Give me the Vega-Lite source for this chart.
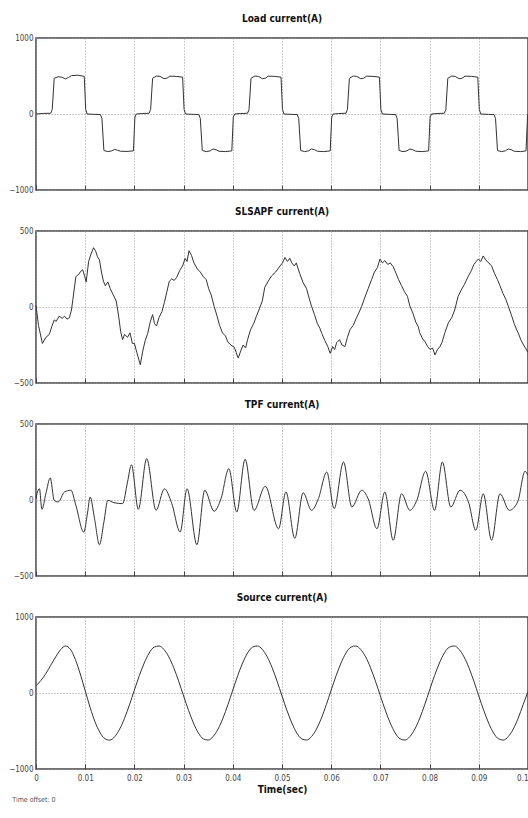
{
  "$schema": "https://vega.github.io/schema/vega-lite/v6.json",
  "padding": {"left": 5, "top": 13, "right": 0, "bottom": 0},
  "background": "white",
  "spacing": 11,
  "title": {"text": "Time offset: 0", "orient": "bottom", "anchor": "start", "fontSize": 7, "font": "DejaVu Sans Condensed", "fontWeight": "normal", "color": "#555555", "offset": 1, "dx": 7},
  "config": {
    "font": "DejaVu Sans Condensed",
    "view": {"stroke": "#444", "strokeWidth": 1.5},
    "title": {"fontSize": 10, "fontWeight": "bold", "offset": 10, "color": "#111"},
    "axis": {"grid": true, "gridColor": "#999", "gridDash": [1, 2], "gridWidth": 1, "domain": false, "labelColor": "#444", "labelFontSize": 8, "labelFlush": false}
  },
  "datasets": {
    "load": [
      {"t": 0, "i": 0}, {"t": 0.0015, "i": 8}, {"t": 0.003, "i": 10}, {"t": 0.0033, "i": 60}, {"t": 0.0037, "i": 470}, {"t": 0.0045, "i": 490}, {"t": 0.0052, "i": 485}, {"t": 0.006, "i": 462}, {"t": 0.0066, "i": 480}, {"t": 0.0072, "i": 505}, {"t": 0.0085, "i": 510}, {"t": 0.0098, "i": 495}, {"t": 0.0101, "i": 60}, {"t": 0.0104, "i": 0}, {"t": 0.012, "i": -5}, {"t": 0.0131, "i": -8}, {"t": 0.0134, "i": -60}, {"t": 0.0138, "i": -480}, {"t": 0.0146, "i": -495}, {"t": 0.0154, "i": -485}, {"t": 0.016, "i": -465}, {"t": 0.0166, "i": -478}, {"t": 0.0172, "i": -490}, {"t": 0.0185, "i": -492}, {"t": 0.0198, "i": -485}, {"t": 0.0201, "i": -40},
      {"t": 0.0204, "i": 0}, {"t": 0.0215, "i": 6}, {"t": 0.023, "i": 10}, {"t": 0.0233, "i": 60}, {"t": 0.0237, "i": 470}, {"t": 0.0245, "i": 500}, {"t": 0.0252, "i": 495}, {"t": 0.026, "i": 465}, {"t": 0.0266, "i": 470}, {"t": 0.0272, "i": 498}, {"t": 0.0285, "i": 495}, {"t": 0.0298, "i": 485}, {"t": 0.0301, "i": 60}, {"t": 0.0304, "i": 0}, {"t": 0.032, "i": -5}, {"t": 0.0331, "i": -8}, {"t": 0.0334, "i": -60}, {"t": 0.0338, "i": -480}, {"t": 0.0346, "i": -495}, {"t": 0.0354, "i": -485}, {"t": 0.036, "i": -460}, {"t": 0.0366, "i": -470}, {"t": 0.0372, "i": -490}, {"t": 0.0385, "i": -495}, {"t": 0.0398, "i": -485}, {"t": 0.0401, "i": -40},
      {"t": 0.0404, "i": 0}, {"t": 0.0415, "i": 6}, {"t": 0.043, "i": 10}, {"t": 0.0433, "i": 60}, {"t": 0.0437, "i": 470}, {"t": 0.0445, "i": 500}, {"t": 0.0452, "i": 495}, {"t": 0.046, "i": 465}, {"t": 0.0466, "i": 470}, {"t": 0.0472, "i": 498}, {"t": 0.0485, "i": 495}, {"t": 0.0498, "i": 485}, {"t": 0.0501, "i": 60}, {"t": 0.0504, "i": 0}, {"t": 0.052, "i": -5}, {"t": 0.0531, "i": -8}, {"t": 0.0534, "i": -60}, {"t": 0.0538, "i": -480}, {"t": 0.0546, "i": -495}, {"t": 0.0554, "i": -485}, {"t": 0.056, "i": -460}, {"t": 0.0566, "i": -470}, {"t": 0.0572, "i": -490}, {"t": 0.0585, "i": -495}, {"t": 0.0598, "i": -485}, {"t": 0.0601, "i": -40},
      {"t": 0.0604, "i": 0}, {"t": 0.0615, "i": 6}, {"t": 0.063, "i": 10}, {"t": 0.0633, "i": 60}, {"t": 0.0637, "i": 470}, {"t": 0.0645, "i": 500}, {"t": 0.0652, "i": 495}, {"t": 0.066, "i": 465}, {"t": 0.0666, "i": 470}, {"t": 0.0672, "i": 498}, {"t": 0.0685, "i": 495}, {"t": 0.0698, "i": 485}, {"t": 0.0701, "i": 60}, {"t": 0.0704, "i": 0}, {"t": 0.072, "i": -5}, {"t": 0.0731, "i": -8}, {"t": 0.0734, "i": -60}, {"t": 0.0738, "i": -480}, {"t": 0.0746, "i": -495}, {"t": 0.0754, "i": -485}, {"t": 0.076, "i": -460}, {"t": 0.0766, "i": -470}, {"t": 0.0772, "i": -490}, {"t": 0.0785, "i": -495}, {"t": 0.0798, "i": -485}, {"t": 0.0801, "i": -40},
      {"t": 0.0804, "i": 0}, {"t": 0.0815, "i": 6}, {"t": 0.083, "i": 10}, {"t": 0.0833, "i": 60}, {"t": 0.0837, "i": 470}, {"t": 0.0845, "i": 500}, {"t": 0.0852, "i": 495}, {"t": 0.086, "i": 465}, {"t": 0.0866, "i": 470}, {"t": 0.0872, "i": 498}, {"t": 0.0885, "i": 495}, {"t": 0.0898, "i": 485}, {"t": 0.0901, "i": 60}, {"t": 0.0904, "i": 0}, {"t": 0.092, "i": -5}, {"t": 0.0931, "i": -8}, {"t": 0.0934, "i": -60}, {"t": 0.0938, "i": -480}, {"t": 0.0946, "i": -495}, {"t": 0.0954, "i": -485}, {"t": 0.096, "i": -460}, {"t": 0.0966, "i": -470}, {"t": 0.0972, "i": -490}, {"t": 0.0985, "i": -495}, {"t": 0.0996, "i": -485}, {"t": 0.0999, "i": -40}, {"t": 0.1, "i": 0}
    ],
    "slsapf": [
      {"t": 0, "i": 10}, {"t": 0.0005, "i": -120}, {"t": 0.0013, "i": -240}, {"t": 0.002, "i": -200}, {"t": 0.0027, "i": -180}, {"t": 0.0032, "i": -130}, {"t": 0.0037, "i": -85}, {"t": 0.0041, "i": -95}, {"t": 0.0047, "i": -60}, {"t": 0.0053, "i": -75}, {"t": 0.0058, "i": -60}, {"t": 0.0063, "i": -80}, {"t": 0.0068, "i": -70}, {"t": 0.0072, "i": -20}, {"t": 0.0075, "i": 50}, {"t": 0.0081, "i": 200}, {"t": 0.0087, "i": 215}, {"t": 0.0091, "i": 235}, {"t": 0.0095, "i": 245}, {"t": 0.0099, "i": 200}, {"t": 0.0102, "i": 165}, {"t": 0.0107, "i": 300}, {"t": 0.0112, "i": 350}, {"t": 0.0117, "i": 390}, {"t": 0.0121, "i": 370}, {"t": 0.0125, "i": 330}, {"t": 0.0129, "i": 310}, {"t": 0.0133, "i": 230}, {"t": 0.0137, "i": 170}, {"t": 0.0141, "i": 140}, {"t": 0.0146, "i": 165}, {"t": 0.0151, "i": 120}, {"t": 0.0157, "i": 80}, {"t": 0.0163, "i": 40}, {"t": 0.0168, "i": -60}, {"t": 0.0172, "i": -160}, {"t": 0.0176, "i": -215}, {"t": 0.018, "i": -180}, {"t": 0.0186, "i": -200}, {"t": 0.0191, "i": -170}, {"t": 0.0196, "i": -240}, {"t": 0.02, "i": -240}, {"t": 0.0205, "i": -300}, {"t": 0.0212, "i": -380}, {"t": 0.0217, "i": -290}, {"t": 0.0222, "i": -220}, {"t": 0.0227, "i": -175}, {"t": 0.0232, "i": -100}, {"t": 0.0237, "i": -50}, {"t": 0.0241, "i": -110}, {"t": 0.0245, "i": -125}, {"t": 0.025, "i": -70}, {"t": 0.0256, "i": -30}, {"t": 0.0261, "i": 30}, {"t": 0.0266, "i": 100}, {"t": 0.0271, "i": 170}, {"t": 0.0276, "i": 185}, {"t": 0.0281, "i": 175}, {"t": 0.0286, "i": 195}, {"t": 0.0292, "i": 240}, {"t": 0.0298, "i": 270}, {"t": 0.0303, "i": 320}, {"t": 0.0307, "i": 300}, {"t": 0.0311, "i": 370}, {"t": 0.0316, "i": 340}, {"t": 0.0321, "i": 290}, {"t": 0.0328, "i": 250}, {"t": 0.0334, "i": 230}, {"t": 0.034, "i": 200}, {"t": 0.0346, "i": 180}, {"t": 0.0351, "i": 120}, {"t": 0.0356, "i": 80}, {"t": 0.0362, "i": 5}, {"t": 0.0368, "i": -60}, {"t": 0.0373, "i": -120}, {"t": 0.0379, "i": -170}, {"t": 0.0385, "i": -190}, {"t": 0.039, "i": -230}, {"t": 0.0396, "i": -250}, {"t": 0.0403, "i": -265}, {"t": 0.0407, "i": -300}, {"t": 0.0411, "i": -336}, {"t": 0.0416, "i": -290}, {"t": 0.0421, "i": -250}, {"t": 0.0426, "i": -270}, {"t": 0.043, "i": -215}, {"t": 0.0436, "i": -150}, {"t": 0.0443, "i": -105}, {"t": 0.0448, "i": -60}, {"t": 0.0453, "i": -20}, {"t": 0.046, "i": 40}, {"t": 0.0465, "i": 130}, {"t": 0.0472, "i": 170}, {"t": 0.0479, "i": 205}, {"t": 0.0487, "i": 230}, {"t": 0.0496, "i": 270}, {"t": 0.0501, "i": 290}, {"t": 0.0506, "i": 326}, {"t": 0.0511, "i": 300}, {"t": 0.0516, "i": 320}, {"t": 0.052, "i": 290}, {"t": 0.0525, "i": 270}, {"t": 0.0529, "i": 290}, {"t": 0.0536, "i": 220}, {"t": 0.0543, "i": 160}, {"t": 0.055, "i": 120}, {"t": 0.0555, "i": 60}, {"t": 0.056, "i": 5}, {"t": 0.0566, "i": -50}, {"t": 0.0572, "i": -110}, {"t": 0.0577, "i": -140}, {"t": 0.0581, "i": -175}, {"t": 0.0587, "i": -220}, {"t": 0.0593, "i": -260}, {"t": 0.0598, "i": -305}, {"t": 0.0603, "i": -260}, {"t": 0.0607, "i": -280}, {"t": 0.0611, "i": -235}, {"t": 0.0617, "i": -215}, {"t": 0.0622, "i": -250}, {"t": 0.0628, "i": -260}, {"t": 0.0633, "i": -200}, {"t": 0.0638, "i": -150}, {"t": 0.0645, "i": -120}, {"t": 0.065, "i": -80}, {"t": 0.0656, "i": -40}, {"t": 0.0662, "i": 5}, {"t": 0.0668, "i": 60}, {"t": 0.0675, "i": 120}, {"t": 0.0682, "i": 180}, {"t": 0.0688, "i": 230}, {"t": 0.0694, "i": 260}, {"t": 0.0699, "i": 315}, {"t": 0.0704, "i": 290}, {"t": 0.0709, "i": 305}, {"t": 0.0715, "i": 280}, {"t": 0.072, "i": 290}, {"t": 0.0726, "i": 265}, {"t": 0.0732, "i": 220}, {"t": 0.0737, "i": 180}, {"t": 0.0743, "i": 140}, {"t": 0.0749, "i": 100}, {"t": 0.0755, "i": 70}, {"t": 0.076, "i": 5}, {"t": 0.0766, "i": -40}, {"t": 0.0772, "i": -100}, {"t": 0.0777, "i": -130}, {"t": 0.078, "i": -170}, {"t": 0.0786, "i": -210}, {"t": 0.0791, "i": -230}, {"t": 0.0796, "i": -260}, {"t": 0.0801, "i": -280}, {"t": 0.0806, "i": -270}, {"t": 0.0811, "i": -315}, {"t": 0.0816, "i": -280}, {"t": 0.0821, "i": -260}, {"t": 0.0825, "i": -235}, {"t": 0.0831, "i": -170}, {"t": 0.0838, "i": -105}, {"t": 0.0845, "i": -70}, {"t": 0.0851, "i": -20}, {"t": 0.0858, "i": 70}, {"t": 0.0864, "i": 110}, {"t": 0.0871, "i": 150}, {"t": 0.0879, "i": 205}, {"t": 0.0885, "i": 240}, {"t": 0.089, "i": 280}, {"t": 0.0895, "i": 300}, {"t": 0.0899, "i": 315}, {"t": 0.0904, "i": 300}, {"t": 0.0909, "i": 336}, {"t": 0.0914, "i": 310}, {"t": 0.092, "i": 290}, {"t": 0.0926, "i": 270}, {"t": 0.0932, "i": 220}, {"t": 0.0938, "i": 180}, {"t": 0.0943, "i": 140}, {"t": 0.0949, "i": 90}, {"t": 0.0955, "i": 50}, {"t": 0.096, "i": 5}, {"t": 0.0966, "i": -50}, {"t": 0.0972, "i": -110}, {"t": 0.0977, "i": -150}, {"t": 0.098, "i": -170}, {"t": 0.0986, "i": -220}, {"t": 0.0991, "i": -250}, {"t": 0.0995, "i": -270}, {"t": 0.1, "i": -300}
    ],
    "tpf": [
      {"t": 0, "i": 10}, {"t": 0.0002, "i": 41}, {"t": 0.0007, "i": 74}, {"t": 0.0012, "i": -61}, {"t": 0.002, "i": 41}, {"t": 0.0029, "i": 145}, {"t": 0.0037, "i": -2}, {"t": 0.0045, "i": -13}, {"t": 0.0058, "i": 53}, {"t": 0.0071, "i": 64}, {"t": 0.0081, "i": -35}, {"t": 0.0097, "i": -211}, {"t": 0.0105, "i": -79}, {"t": 0.011, "i": 20}, {"t": 0.0119, "i": -123}, {"t": 0.0129, "i": -294}, {"t": 0.0138, "i": -145}, {"t": 0.0146, "i": -2}, {"t": 0.0159, "i": -18}, {"t": 0.0176, "i": -24}, {"t": 0.0186, "i": 118}, {"t": 0.0194, "i": 232}, {"t": 0.0208, "i": -61}, {"t": 0.0225, "i": 272}, {"t": 0.0244, "i": -68}, {"t": 0.0261, "i": 74}, {"t": 0.0276, "i": -24}, {"t": 0.0293, "i": -211}, {"t": 0.0307, "i": 74}, {"t": 0.0327, "i": -294}, {"t": 0.0343, "i": 64}, {"t": 0.0362, "i": -74}, {"t": 0.0376, "i": 9}, {"t": 0.0392, "i": 206}, {"t": 0.0408, "i": -79}, {"t": 0.0425, "i": 268}, {"t": 0.0443, "i": -68}, {"t": 0.0466, "i": 90}, {"t": 0.0493, "i": -189}, {"t": 0.0508, "i": 53}, {"t": 0.0526, "i": -252}, {"t": 0.0543, "i": 48}, {"t": 0.056, "i": -68}, {"t": 0.0574, "i": 9}, {"t": 0.0591, "i": 184}, {"t": 0.0606, "i": -57}, {"t": 0.0625, "i": 250}, {"t": 0.0642, "i": -46}, {"t": 0.0662, "i": 64}, {"t": 0.0675, "i": 9}, {"t": 0.0693, "i": -189}, {"t": 0.0709, "i": 53}, {"t": 0.0726, "i": -265}, {"t": 0.0743, "i": 41}, {"t": 0.076, "i": -68}, {"t": 0.0774, "i": -2}, {"t": 0.0792, "i": 189}, {"t": 0.081, "i": -68}, {"t": 0.0826, "i": 250}, {"t": 0.0843, "i": -46}, {"t": 0.0862, "i": 64}, {"t": 0.0879, "i": -13}, {"t": 0.0894, "i": -199}, {"t": 0.0909, "i": 41}, {"t": 0.0926, "i": -265}, {"t": 0.0943, "i": 41}, {"t": 0.0962, "i": -68}, {"t": 0.0979, "i": -13}, {"t": 0.0994, "i": 189}, {"t": 0.1, "i": 160}
    ],
    "source": [
      {"t": 0, "i": 95}, {"t": 0.001, "i": 165}, {"t": 0.002, "i": 255}, {"t": 0.003, "i": 365}, {"t": 0.004, "i": 475}, {"t": 0.005, "i": 570}, {"t": 0.006, "i": 618}, {"t": 0.007, "i": 575}, {"t": 0.008, "i": 440}, {"t": 0.009, "i": 250}, {"t": 0.01, "i": 30}, {"t": 0.011, "i": -190}, {"t": 0.012, "i": -380}, {"t": 0.013, "i": -520}, {"t": 0.014, "i": -600}, {"t": 0.015, "i": -620}, {"t": 0.016, "i": -575}, {"t": 0.017, "i": -475}, {"t": 0.018, "i": -332}, {"t": 0.019, "i": -155},
      {"t": 0.02, "i": 39}, {"t": 0.021, "i": 228}, {"t": 0.022, "i": 395}, {"t": 0.023, "i": 526}, {"t": 0.024, "i": 603}, {"t": 0.025, "i": 619}, {"t": 0.026, "i": 573}, {"t": 0.027, "i": 475}, {"t": 0.028, "i": 332}, {"t": 0.029, "i": 155}, {"t": 0.03, "i": -39}, {"t": 0.031, "i": -228}, {"t": 0.032, "i": -395}, {"t": 0.033, "i": -526}, {"t": 0.034, "i": -603}, {"t": 0.035, "i": -619}, {"t": 0.036, "i": -573}, {"t": 0.037, "i": -475}, {"t": 0.038, "i": -332}, {"t": 0.039, "i": -155},
      {"t": 0.04, "i": 39}, {"t": 0.041, "i": 228}, {"t": 0.042, "i": 395}, {"t": 0.043, "i": 526}, {"t": 0.044, "i": 603}, {"t": 0.045, "i": 619}, {"t": 0.046, "i": 573}, {"t": 0.047, "i": 475}, {"t": 0.048, "i": 332}, {"t": 0.049, "i": 155}, {"t": 0.05, "i": -39}, {"t": 0.051, "i": -228}, {"t": 0.052, "i": -395}, {"t": 0.053, "i": -526}, {"t": 0.054, "i": -603}, {"t": 0.055, "i": -619}, {"t": 0.056, "i": -573}, {"t": 0.057, "i": -475}, {"t": 0.058, "i": -332}, {"t": 0.059, "i": -155},
      {"t": 0.06, "i": 39}, {"t": 0.061, "i": 228}, {"t": 0.062, "i": 395}, {"t": 0.063, "i": 526}, {"t": 0.064, "i": 603}, {"t": 0.065, "i": 619}, {"t": 0.066, "i": 573}, {"t": 0.067, "i": 475}, {"t": 0.068, "i": 332}, {"t": 0.069, "i": 155}, {"t": 0.07, "i": -39}, {"t": 0.071, "i": -228}, {"t": 0.072, "i": -395}, {"t": 0.073, "i": -526}, {"t": 0.074, "i": -603}, {"t": 0.075, "i": -619}, {"t": 0.076, "i": -573}, {"t": 0.077, "i": -475}, {"t": 0.078, "i": -332}, {"t": 0.079, "i": -155},
      {"t": 0.08, "i": 39}, {"t": 0.081, "i": 228}, {"t": 0.082, "i": 395}, {"t": 0.083, "i": 526}, {"t": 0.084, "i": 603}, {"t": 0.085, "i": 619}, {"t": 0.086, "i": 573}, {"t": 0.087, "i": 475}, {"t": 0.088, "i": 332}, {"t": 0.089, "i": 155}, {"t": 0.09, "i": -39}, {"t": 0.091, "i": -228}, {"t": 0.092, "i": -395}, {"t": 0.093, "i": -526}, {"t": 0.094, "i": -603}, {"t": 0.095, "i": -619}, {"t": 0.096, "i": -573}, {"t": 0.097, "i": -475}, {"t": 0.098, "i": -332}, {"t": 0.099, "i": -155}, {"t": 0.1, "i": 20}
    ]
  },
  "vconcat": [
    {
      "title": "Load current(A)",
      "width": 492, "height": 152,
      "data": {"name": "load"},
      "mark": {"type": "line", "color": "#333", "strokeWidth": 1},
      "encoding": {
        "x": {"field": "t", "type": "quantitative", "scale": {"domain": [0, 0.1], "nice": false}, "axis": {"values": [0, 0.01, 0.02, 0.03, 0.04, 0.05, 0.06, 0.07, 0.08, 0.09, 0.1], "labels": false, "ticks": true, "tickSize": -5, "tickColor": "#444", "title": null}},
        "y": {"field": "i", "type": "quantitative", "scale": {"domain": [-1000, 1000], "nice": false}, "axis": {"values": [-1000, 0, 1000], "format": "d", "ticks": false, "labelPadding": 3, "minExtent": 30, "maxExtent": 30, "title": null}}
      }
    },
    {
      "title": "SLSAPF current(A)",
      "width": 492, "height": 152,
      "data": {"name": "slsapf"},
      "mark": {"type": "line", "color": "#333", "strokeWidth": 1},
      "encoding": {
        "x": {"field": "t", "type": "quantitative", "scale": {"domain": [0, 0.1], "nice": false}, "axis": {"values": [0, 0.01, 0.02, 0.03, 0.04, 0.05, 0.06, 0.07, 0.08, 0.09, 0.1], "labels": false, "ticks": true, "tickSize": -5, "tickColor": "#444", "title": null}},
        "y": {"field": "i", "type": "quantitative", "scale": {"domain": [-500, 500], "nice": false}, "axis": {"values": [-500, 0, 500], "format": "d", "ticks": false, "labelPadding": 3, "minExtent": 30, "maxExtent": 30, "title": null}}
      }
    },
    {
      "title": "TPF current(A)",
      "width": 492, "height": 152,
      "data": {"name": "tpf"},
      "mark": {"type": "line", "color": "#333", "strokeWidth": 1, "interpolate": "monotone"},
      "encoding": {
        "x": {"field": "t", "type": "quantitative", "scale": {"domain": [0, 0.1], "nice": false}, "axis": {"values": [0, 0.01, 0.02, 0.03, 0.04, 0.05, 0.06, 0.07, 0.08, 0.09, 0.1], "labels": false, "ticks": true, "tickSize": -5, "tickColor": "#444", "title": null}},
        "y": {"field": "i", "type": "quantitative", "scale": {"domain": [-500, 500], "nice": false}, "axis": {"values": [-500, 0, 500], "format": "d", "ticks": false, "labelPadding": 3, "minExtent": 30, "maxExtent": 30, "title": null}}
      }
    },
    {
      "title": "Source current(A)",
      "width": 492, "height": 152,
      "data": {"name": "source"},
      "mark": {"type": "line", "color": "#333", "strokeWidth": 1, "interpolate": "monotone"},
      "encoding": {
        "x": {"field": "t", "type": "quantitative", "scale": {"domain": [0, 0.1], "nice": false}, "axis": {"values": [0, 0.01, 0.02, 0.03, 0.04, 0.05, 0.06, 0.07, 0.08, 0.09, 0.1], "format": "~g", "labelAlign": {"condition": {"test": "datum.value >= 0.0999", "value": "right"}, "value": "center"}, "ticks": true, "tickSize": -5, "tickColor": "#444", "labelPadding": 10, "title": "Time(sec)", "titleFontSize": 10, "titleFontWeight": "bold", "titleColor": "#111", "titlePadding": 2}},
        "y": {"field": "i", "type": "quantitative", "scale": {"domain": [-1000, 1000], "nice": false}, "axis": {"values": [-1000, 0, 1000], "format": "d", "ticks": false, "labelPadding": 3, "minExtent": 30, "maxExtent": 30, "title": null}}
      }
    }
  ]
}
